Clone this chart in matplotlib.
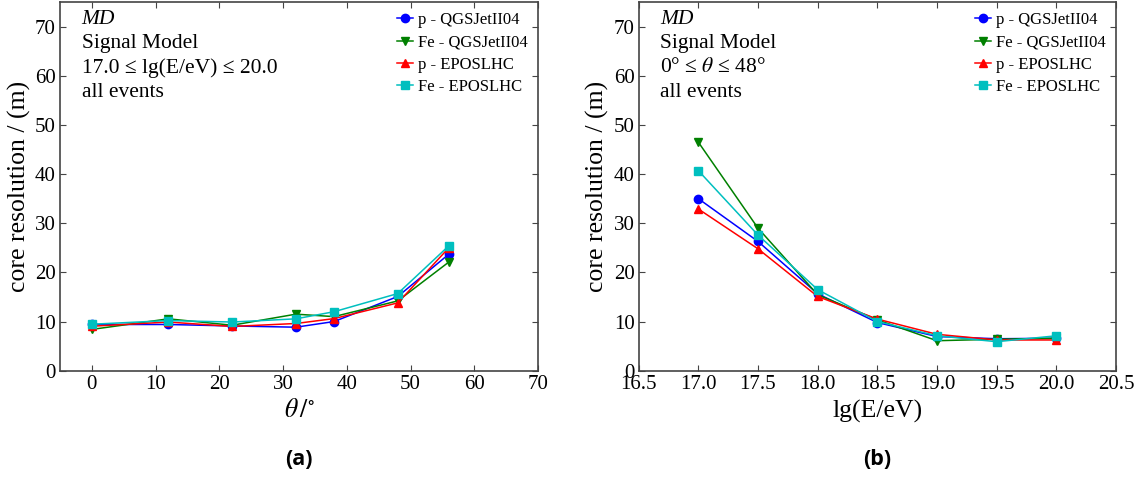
import matplotlib
matplotlib.use("Agg")
import matplotlib.pyplot as plt

plt.rcParams['font.family'] = ['Liberation Serif', 'DejaVu Serif']
plt.rcParams['mathtext.fontset'] = 'stix'

# zenith-angle dependence
theta = [0, 12, 22, 32, 38, 48, 56]
theta_p_qgs = [9.4, 9.4, 9.1, 8.85, 10.0, 15.1, 23.7]
theta_fe_qgs = [8.4, 10.55, 9.25, 11.5, 11.0, 14.2, 22.1]
theta_p_epos = [9.05, 9.9, 9.0, 9.6, 10.6, 13.8, 25.0]
theta_fe_epos = [9.45, 10.2, 9.9, 10.55, 12.0, 15.7, 25.4]

# energy dependence
lgE = [17.0, 17.5, 18.0, 18.5, 19.0, 19.5, 20.0]
lgE_p_qgs = [35.0, 26.3, 15.65, 9.8, 6.95, 6.5, 6.6]
lgE_fe_qgs = [46.5, 29.0, 15.45, 10.35, 6.1, 6.4, 6.6]
lgE_p_epos = [32.9, 24.8, 15.1, 10.5, 7.4, 6.25, 6.25]
lgE_fe_epos = [40.7, 27.6, 16.5, 10.0, 7.1, 5.9, 7.1]

labels = ["p - QGSJetII04", "Fe - QGSJetII04", "p - EPOSLHC", "Fe - EPOSLHC"]
colors = ["#0000ff", "#008000", "#ff0000", "#00bfbf"]
markers = ["o", "v", "^", "s"]

fig = plt.figure(figsize=(11.37, 4.79), dpi=100)
axA = fig.add_axes([0.0528, 0.2261, 0.4204, 0.7697])
axB = fig.add_axes([0.5617, 0.2261, 0.4198, 0.7697])


def draw(ax, x, series, xlim, xticks, xlabel, info):
    for ys, lab, c, m in zip(series, labels, colors, markers):
        ax.plot(x, ys, color=c, marker=m, markersize=6, lw=1.1,
                markeredgecolor=c, label=lab)
    ax.set_xlim(*xlim)
    ax.set_ylim(0, 75)
    ax.set_xticks(xticks)
    ax.set_yticks(range(0, 80, 10))
    ax.tick_params(direction='in', top=True, right=True, length=4,
                   width=0.8, labelsize=15, color='#444444', pad=3)
    for s in ax.spines.values():
        s.set_color('#444444')
        s.set_linewidth(1.2)
    ax.set_ylabel("core resolution / (m)", fontsize=18.5, labelpad=3)
    ax.set_xlabel(xlabel, fontsize=18.5, labelpad=4)
    ax.legend(loc='upper right', frameon=False, fontsize=12,
              numpoints=1, handlelength=1.0, handletextpad=0.3,
              labelspacing=0.38, borderaxespad=0.2,
              bbox_to_anchor=(1.0, 1.0))
    y0 = 0.978
    for i, t in enumerate(info):
        ax.text(0.045, y0 - i * 0.0655, t, transform=ax.transAxes,
                fontsize=15.5, va='top', ha='left',
                style='italic' if i == 0 else 'normal')


draw(axA, theta, [theta_p_qgs, theta_fe_qgs, theta_p_epos, theta_fe_epos],
     (-5, 70), range(0, 80, 10), r"$\theta\,/^{\circ}$",
     ["MD", "Signal Model", "17.0 ≤ lg(E/eV) ≤ 20.0", "all events"])
axA.set_xticklabels([str(v) for v in range(0, 80, 10)])

draw(axB, lgE, [lgE_p_qgs, lgE_fe_qgs, lgE_p_epos, lgE_fe_epos],
     (16.5, 20.5), [16.5 + 0.5 * i for i in range(9)], "lg(E/eV)",
     ["MD", "Signal Model", r"0° ≤ $\theta$ ≤ 48°", "all events"])
axB.set_xticklabels([f"{16.5 + 0.5 * i:.1f}" for i in range(9)])

fig.text(0.2626, 0.04, "(a)", ha='center', va='center', fontsize=15.5,
         fontweight='bold', family='Open Sans')
fig.text(0.7716, 0.04, "(b)", ha='center', va='center', fontsize=15.5,
         fontweight='bold', family='Open Sans')

fig.savefig("out.png", dpi=100)
